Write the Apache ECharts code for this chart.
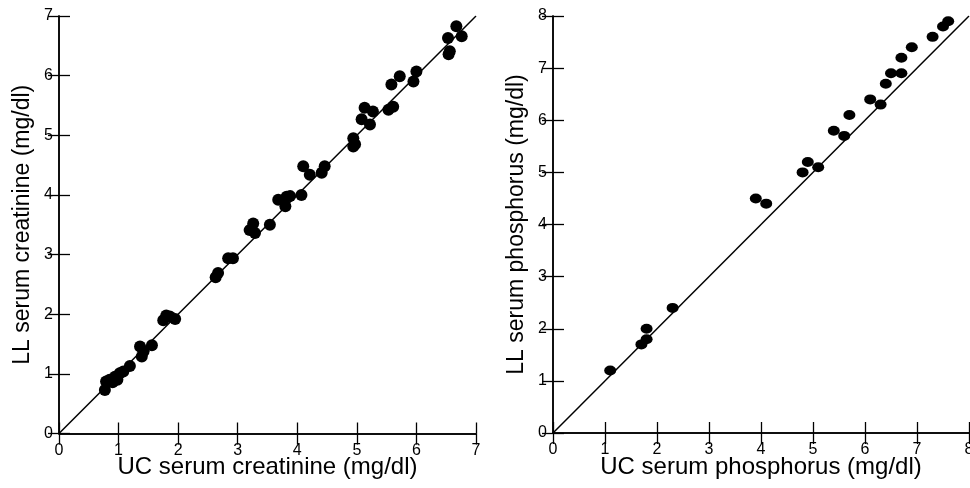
<!DOCTYPE html>
<html>
<head>
<meta charset="utf-8">
<script src="https://cdn.jsdelivr.net/npm/echarts@6/dist/echarts.min.js"></script>
<style>
  html, body { margin: 0; padding: 0; background: #fff; }
  #main { width: 970px; height: 488px; }
</style>
</head>
<body>
<div id="main"></div>
<script>
// creatinine: [UC, LL] in mg/dl
var creatinine = [
  [0.77, 0.73], [0.79, 0.87], [0.85, 0.90], [0.90, 0.86], [0.94, 0.95],
  [0.98, 0.90], [1.02, 1.01], [1.08, 1.04], [1.19, 1.13], [1.36, 1.46],
  [1.39, 1.29], [1.42, 1.38], [1.56, 1.48],
  [1.75, 1.90], [1.80, 1.98], [1.86, 1.96], [1.95, 1.92],
  [2.63, 2.62], [2.67, 2.69], [2.84, 2.94], [2.92, 2.94],
  [3.20, 3.41], [3.26, 3.52], [3.29, 3.36], [3.54, 3.50], [3.68, 3.92],
  [3.80, 3.81], [3.82, 3.97], [3.88, 3.98], [4.07, 4.00],
  [4.10, 4.48], [4.21, 4.34], [4.41, 4.37], [4.46, 4.48],
  [4.94, 4.95], [4.94, 4.81], [4.97, 4.85], [5.08, 5.27], [5.13, 5.46],
  [5.22, 5.18], [5.27, 5.40], [5.53, 5.43], [5.61, 5.48], [5.58, 5.85],
  [5.72, 5.99], [5.95, 5.90], [6.00, 6.07],
  [6.53, 6.63], [6.56, 6.41], [6.54, 6.36], [6.67, 6.83], [6.76, 6.66]
];

// phosphorus: [UC, LL] in mg/dl
var phosphorus = [
  [1.1, 1.2], [1.7, 1.7], [1.8, 1.8], [1.8, 2.0], [2.3, 2.4],
  [3.9, 4.5], [4.1, 4.4], [4.8, 5.0], [4.9, 5.2], [5.1, 5.1],
  [5.4, 5.8], [5.6, 5.7], [5.7, 6.1], [6.1, 6.4], [6.3, 6.3],
  [6.4, 6.7], [6.5, 6.9], [6.7, 6.9], [6.7, 7.2], [6.9, 7.4],
  [7.3, 7.6], [7.5, 7.8], [7.6, 7.9]
];

var creatMax = 7;
var phosMax = 8;
var xTitles = ['UC serum creatinine (mg/dl)', 'UC serum phosphorus (mg/dl)'];
var yTitles = ['LL serum creatinine (mg/dl)', 'LL serum phosphorus (mg/dl)'];

var font = 'Liberation Sans, Arial, sans-serif';

function mainAxis(idx, max, name, isX) {
  return {
    gridIndex: idx,
    type: 'value',
    position: isX ? 'bottom' : 'left',
    min: 0,
    max: max,
    interval: 1,
    name: name,
    nameLocation: 'middle',
    nameGap: isX ? 22 : 25,
    nameMoveOverlap: false,
    nameTextStyle: { fontFamily: font, fontSize: isX ? 24 : 23, color: '#000' },
    axisLine: { show: true, lineStyle: { color: '#000', width: 1.5 } },
    axisTick: { show: true, inside: true, length: 11, lineStyle: { color: '#000', width: 1.3 } },
    axisLabel: { fontFamily: font, fontSize: 16, color: '#000', margin: isX ? 9 : 6 },
    splitLine: { show: false }
  };
}

function mirrorAxis(idx, max, isX) {
  return {
    gridIndex: idx,
    type: 'value',
    position: isX ? 'top' : 'right',
    min: 0,
    max: max,
    interval: 1,
    axisLine: { show: true, lineStyle: { color: '#000', width: 1.5 } },
    axisTick: { show: true, inside: true, length: 11, lineStyle: { color: '#000', width: 1.3 } },
    axisLabel: { show: false },
    splitLine: { show: false }
  };
}

var chart = echarts.init(document.getElementById('main'));

chart.setOption({
  backgroundColor: '#fff',
  animation: false,
  grid: [
    { left: 59, top: 16, width: 417, height: 417.5, containLabel: false, outerBoundsMode: 'none' },
    { left: 553, top: 16, width: 416, height: 417, containLabel: false, outerBoundsMode: 'none' }
  ],
  xAxis: [
    mainAxis(0, creatMax, xTitles[0], true),
    mirrorAxis(0, creatMax, true),
    mainAxis(1, phosMax, xTitles[1], true),
    mirrorAxis(1, phosMax, true)
  ],
  yAxis: [
    mainAxis(0, creatMax, yTitles[0], false),
    mirrorAxis(0, creatMax, false),
    mainAxis(1, phosMax, yTitles[1], false),
    mirrorAxis(1, phosMax, false)
  ],
  series: [
    {
      type: 'line',
      xAxisIndex: 0, yAxisIndex: 0,
      data: [[0, 0], [creatMax, creatMax]],
      symbol: 'none',
      lineStyle: { color: '#000', width: 1.5 },
      z: 1
    },
    {
      type: 'scatter',
      xAxisIndex: 0, yAxisIndex: 0,
      data: creatinine,
      symbol: 'circle',
      symbolSize: 12,
      itemStyle: { color: '#000', opacity: 1 },
      z: 2
    },
    {
      type: 'line',
      xAxisIndex: 2, yAxisIndex: 2,
      data: [[0, 0], [phosMax, phosMax]],
      symbol: 'none',
      lineStyle: { color: '#000', width: 1.5 },
      z: 1
    },
    {
      type: 'scatter',
      xAxisIndex: 2, yAxisIndex: 2,
      data: phosphorus,
      symbol: 'circle',
      symbolSize: [12, 10],
      itemStyle: { color: '#000', opacity: 1 },
      z: 2
    }
  ]
});
</script>
</body>
</html>
